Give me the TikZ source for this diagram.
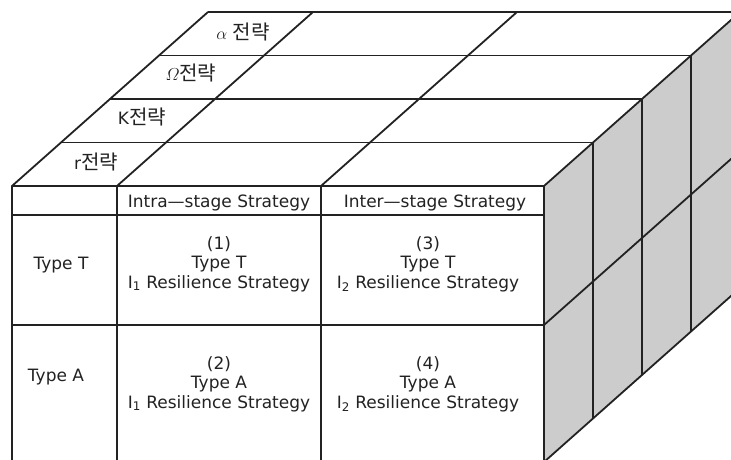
\documentclass[tikz,border=0pt]{standalone}
\usepackage{fontspec}
\setmainfont{DejaVu Sans}
\newfontfamily\kr{Noto Sans CJK KR}[Scale=1.18]
\definecolor{sidegray}{RGB}{204,204,204}
\definecolor{ink}{RGB}{34,34,34}
\begin{document}
\begin{tikzpicture}[x=1pt,y=-1pt,line width=1.8pt,line join=round]
\tikzset{
  edge/.style={draw=ink},
  txt/.style={font=\fontsize{17}{19.5}\selectfont,inner sep=0pt,align=center,text=ink},
}
\useasboundingbox (0,0) rectangle (731,460);
\clip (0,0) rectangle (731,460);
% right side face
\fill[sidegray] (544,186) -- (740,12) -- (740,288) -- (544,462) -- cycle;
% top face
\foreach \k in {0,...,4}
  \draw[edge] ({12+49*\k},{186-43.5*\k}) -- ({544+49*\k},{186-43.5*\k});
\foreach \x in {12,117,321,544}
  \draw[edge] (\x,186) -- ({\x+196},12);
% right face
\foreach \k in {1,...,4}
  \draw[edge] ({544+49*\k},{186-43.5*\k}) -- ({544+49*\k},{462-43.5*\k});
\draw[edge] (544,325) -- (740,151);
\draw[edge] (544,462) -- (740,288);
% front face
\draw[edge] (12,186) rectangle (544,462);
\draw[edge] (117,186) -- (117,462);
\draw[edge] (321,186) -- (321,462);
\draw[edge] (12,215) -- (544,215);
\draw[edge] (12,325) -- (544,325);
% top labels
\node[txt] (lr) at (96,162) {r{\kr 전략}};
\node[txt] (lk) at (142,117) {K{\kr 전략}};
\node[txt] (lo) at (191,73) {$\mathnormal{\Omega}${\kr 전략}};
\node[txt] (la) at (243,32) {$\alpha$ {\kr 전략}};
% header
\node[txt] (h1) at (219,203) {Intra—stage Strategy};
\node[txt] (h2) at (435,203) {Inter—stage Strategy};
% rows
\node[txt] (rt) at (61,265) {Type T};
\node[txt] (ra) at (56,377) {Type A};
\node[txt] (c1) at (219,264) {(1)\\Type T\\I\textsubscript{1} Resilience Strategy};
\node[txt] (c3) at (428,264) {(3)\\Type T\\I\textsubscript{2} Resilience Strategy};
\node[txt] (c2) at (219,384) {(2)\\Type A\\I\textsubscript{1} Resilience Strategy};
\node[txt] (c4) at (428,384) {(4)\\Type A\\I\textsubscript{2} Resilience Strategy};
\end{tikzpicture}
\end{document}
